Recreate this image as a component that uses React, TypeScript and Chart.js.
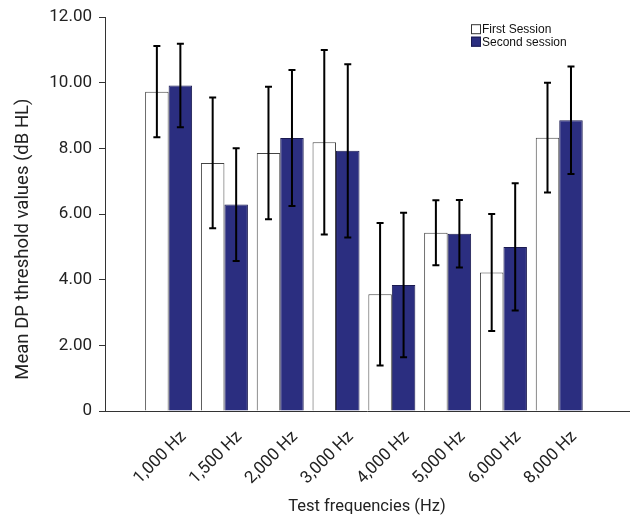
import React, { useEffect, useRef } from "react";
import { Chart, registerables } from "chart.js";

Chart.register(...registerables);

const frequencies = ["1,000 Hz", "1,500 Hz", "2,000 Hz", "3,000 Hz", "4,000 Hz", "5,000 Hz", "6,000 Hz", "8,000 Hz"];
const firstSession = [9.73, 7.56, 7.86, 8.19, 3.56, 5.43, 4.22, 8.33];
const firstSessionSD = [1.39, 1.99, 2.02, 2.81, 2.17, 0.99, 1.78, 1.67];
const secondSession = [9.92, 6.29, 8.32, 7.93, 3.84, 5.40, 5.0, 8.86];
const secondSessionSD = [1.27, 1.72, 2.07, 2.64, 2.2, 1.03, 1.94, 1.64];
const legendLabels = ["First Session", "Second session"];
const yTickValues = [0, 2, 4, 6, 8, 10, 12];
const yTitle = "Mean DP threshold values (dB HL)";
const xTitle = "Test frequencies (Hz)";

const FONT = "Roboto, 'Liberation Sans', sans-serif";
const NAVY = "#2b2e80";

export default function App() {
  const ref = useRef<HTMLCanvasElement>(null);

  useEffect(() => {
    if (!ref.current) return;
    const sds = [firstSessionSD, secondSessionSD];

    const errorBars = {
      id: "errorBars",
      afterDatasetsDraw(chart: any) {
        const ctx = chart.ctx;
        const ys = chart.scales.y;
        chart.data.datasets.forEach((ds: any, di: number) => {
          const meta = chart.getDatasetMeta(di);
          meta.data.forEach((bar: any, i: number) => {
            const v = ds.data[i].y;
            const sd = sds[di][i];
            const top = ys.getPixelForValue(v + sd);
            const bot = ys.getPixelForValue(v - sd);
            ctx.save();
            ctx.strokeStyle = "#000";
            ctx.lineWidth = 2;
            ctx.beginPath();
            ctx.moveTo(bar.x, top);
            ctx.lineTo(bar.x, bot);
            ctx.moveTo(bar.x - 3.5, top);
            ctx.lineTo(bar.x + 3.5, top);
            ctx.moveTo(bar.x - 3.5, bot);
            ctx.lineTo(bar.x + 3.5, bot);
            ctx.stroke();
            ctx.restore();
          });
        });
      },
    };

    const labelsPlugin = {
      id: "customLegendAndTitle",
      afterDraw(chart: any) {
        const ctx = chart.ctx;
        const area = chart.chartArea;
        const x0 = area.right - 158;
        const y0 = area.top + 7;
        const fills = ["#ffffff", NAVY];
        legendLabels.forEach((label, i) => {
          const y = y0 + i * 12.5;
          ctx.save();
          ctx.fillStyle = fills[i];
          ctx.fillRect(x0, y, 10, 10);
          ctx.strokeStyle = i === 0 ? "#333" : "#1a1a50";
          ctx.lineWidth = 1;
          ctx.strokeRect(x0 + 0.5, y + 0.5, 9, 9);
          ctx.fillStyle = "#111";
          ctx.font = "12px 'Liberation Sans', Arial, sans-serif";
          ctx.textBaseline = "middle";
          ctx.textAlign = "left";
          ctx.fillText(label, x0 + 11, y + 5.5);
          ctx.restore();
        });
        // y-axis title, placed a little below the axis centre as in the original
        ctx.save();
        ctx.translate(23, (area.top + area.bottom) / 2 + 25);
        ctx.rotate(-Math.PI / 2);
        ctx.font = `18.5px ${FONT}`;
        ctx.fillStyle = "#222";
        ctx.textAlign = "center";
        ctx.textBaseline = "middle";
        ctx.fillText(yTitle, 0, 0);
        ctx.restore();
      },
    };

    const chart = new Chart(ref.current, {
      type: "bar",
      data: {
        datasets: [
          {
            label: legendLabels[0],
            data: firstSession.map((y, i) => ({ x: i, y })),
            backgroundColor: "#ffffff",
            borderColor: "#444",
            borderWidth: 1,
            categoryPercentage: 0.842,
            barPercentage: 1,
          },
          {
            label: legendLabels[1],
            data: secondSession.map((y, i) => ({ x: i, y })),
            backgroundColor: NAVY,
            borderColor: "#1a1a50",
            borderWidth: 1,
            categoryPercentage: 0.842,
            barPercentage: 1,
          },
        ],
      },
      options: {
        animation: false,
        responsive: false,
        devicePixelRatio: 1,
        layout: { padding: { left: 0, right: 3, top: 14, bottom: 0 } },
        plugins: {
          legend: { display: false },
          tooltip: { enabled: false },
        },
        scales: {
          x: {
            type: "linear",
            min: -1.14,
            max: 8.25,
            offset: false,
            grid: { display: false, drawTicks: false },
            border: { display: true, color: "#333", width: 1 },
            afterBuildTicks: (scale: any) => {
              scale.ticks = frequencies.map((_, i) => ({ value: i }));
            },
            afterFit: (scale: any) => {
              scale.height = 109;
            },
            ticks: {
              autoSkip: false,
              minRotation: 45,
              maxRotation: 45,
              padding: 16,
              labelOffset: 15,
              color: "#222",
              font: { family: FONT, size: 17 },
              callback: (v: any) => frequencies[v] ?? "",
            },
            title: {
              display: true,
              text: xTitle,
              color: "#222",
              font: { family: FONT, size: 16.5 },
              padding: { top: 4, bottom: 3 },
            },
          },
          y: {
            min: 0,
            max: 12,
            afterBuildTicks: (scale: any) => {
              scale.ticks = yTickValues.map((value) => ({ value }));
            },
            afterFit: (scale: any) => {
              scale.width = 105;
            },
            grid: {
              drawOnChartArea: false,
              drawTicks: true,
              tickLength: 6,
              color: "#333",
            },
            border: { display: true, color: "#333", width: 1 },
            ticks: {
              padding: 7,
              color: "#222",
              font: { family: FONT, size: 17 },
              callback: (v: any) => (v === 0 ? "0" : Number(v).toFixed(2)),
            },
            title: { display: false },
          },
        },
      },
      plugins: [errorBars, labelsPlugin],
    });

    return () => chart.destroy();
  }, []);

  return (
    <div style={{ position: "absolute", left: 0, top: 0, width: 632, height: 520, background: "#fff" }}>
      <canvas ref={ref} width={632} height={520} />
    </div>
  );
}
